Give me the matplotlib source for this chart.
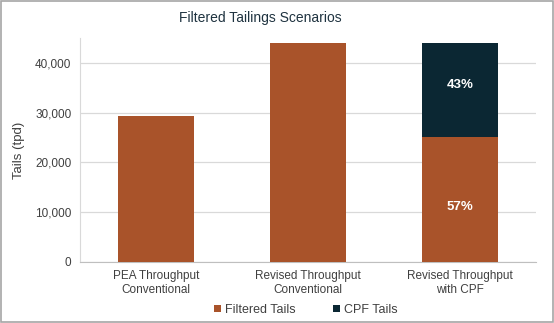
import numpy as np
import matplotlib.pyplot as plt
from matplotlib.patches import Rectangle

plt.rcParams['font.family'] = ['Liberation Sans', 'DejaVu Sans']

# Tailings throughput per scenario (tpd)
categories = ['PEA Throughput\nConventional', 'Revised Throughput\nConventional', 'Revised Throughput\nwith CPF']
filtered_tails = [29400, 44100, 25140]
cpf_tails = [0, 0, 18960]
cpf_labels = ['', '', '43%']
filtered_labels = ['', '', '57%']

orange = '#A9532A'
navy = '#0B2733'
text_col = '#404040'

fig = plt.figure(figsize=(5.54, 3.23), dpi=100)
ax = fig.add_axes([0.144, 0.189, 0.824, 0.693])

x = np.arange(len(categories))
ax.bar(x, filtered_tails, width=0.5, color=orange, label='Filtered Tails', zorder=3)
ax.bar(x, cpf_tails, width=0.5, bottom=filtered_tails, color=navy, label='CPF Tails', zorder=3)

# percentage labels inside the stacked bar
for i in range(len(categories)):
    if filtered_labels[i]:
        ax.text(x[i], filtered_tails[i] / 2 - 1500, filtered_labels[i], ha='center', va='center',
                color='white', fontsize=9.5, fontweight='bold', zorder=4)
    if cpf_labels[i]:
        ax.text(x[i], filtered_tails[i] + cpf_tails[i] / 2 + 1000, cpf_labels[i], ha='center', va='center',
                color='white', fontsize=9.5, fontweight='bold', zorder=4)

ax.set_xlim(-0.5, 2.5)
ax.set_ylim(0, 45000)
ax.set_yticks(np.arange(0, 45000, 10000))
ax.yaxis.set_major_formatter(plt.FuncFormatter(lambda v, p: f'{int(v):,}'))
ax.set_xticks(x)
ax.set_xticklabels(categories)
ax.tick_params(axis='both', length=0, colors=text_col, labelsize=8.5, pad=6)
ax.grid(axis='y', color='#D9D9D9', linewidth=0.9, zorder=0)

for side in ['top', 'right']:
    ax.spines[side].set_visible(False)
ax.spines['left'].set_color('#D9D9D9')
ax.spines['bottom'].set_color('#BFBFBF')

ax.set_ylabel('Tails (tpd)', color=text_col, fontsize=9.5, labelpad=7)
fig.text(0.47, 0.945, 'Filtered Tailings Scenarios', ha='center', va='center',
         color='#1F3340', fontsize=10)

fig.legend(loc='center', bbox_to_anchor=(0.552, 0.04), ncol=2, frameon=False,
           fontsize=9, handlelength=0.55, handleheight=0.55, columnspacing=3.0,
           handletextpad=0.3, labelcolor=text_col)

# thin grey frame round the figure
fig.patches.append(Rectangle((0.002, 0.003), 0.996, 0.994, transform=fig.transFigure,
                             fill=False, edgecolor='#A6A6A6', linewidth=1.2))

fig.savefig('out.png', dpi=100)
